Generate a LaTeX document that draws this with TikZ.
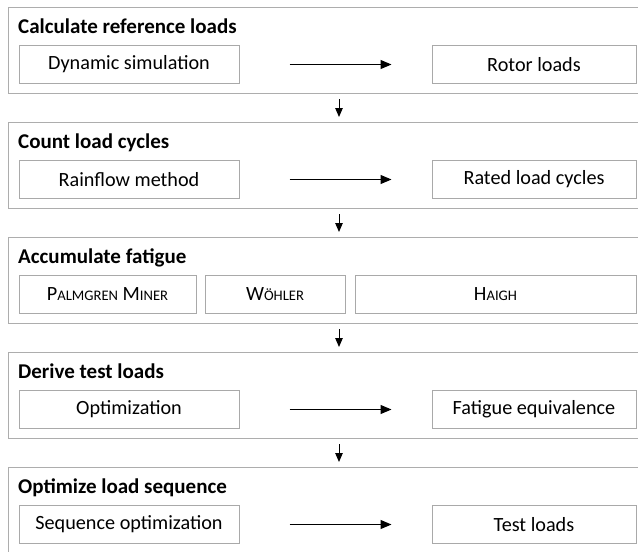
\documentclass[tikz,border=0pt]{standalone}
\usepackage{fontspec}
\setmainfont{Carlito}
\usetikzlibrary{arrows.meta}
\definecolor{outerc}{HTML}{ADADAD}
\definecolor{innerc}{HTML}{A9A9A9}
\newcommand{\fsc}[1]{{\fontsize{14.6}{16}\selectfont #1}}
\begin{document}
\begin{tikzpicture}[x=1pt,y=-1pt,
  stage/.style={draw=outerc, line width=1.3pt, minimum width=640pt, minimum height=86pt, anchor=north west, inner sep=0pt},
  stitle/.style={anchor=base west, inner sep=0pt, font=\fontsize{21}{24}\selectfont\bfseries},
  box/.style={draw=innerc, line width=1pt, minimum height=38pt, inner sep=0pt, font=\fontsize{20.2}{24}\selectfont},
  flow/.style={-{Triangle[length=11pt,width=9pt]}, line width=1.1pt},
  down/.style={-{Triangle[length=9pt,width=7.5pt]}, line width=1pt, shorten <=5pt, shorten >=5pt}]
\useasboundingbox (0,0) rectangle (638,552);
\clip (0,0) rectangle (638,552);
\fill[white] (0,0) rectangle (638,552);
\coordinate (dx) at (339,0);
% stage 1
\node[stage] (s1) at (8,7) {};
\node[stitle] (t1) at (18,33) {Calculate reference loads};
\node[box, minimum width=220pt] (a1) at (129,64.5) {Dynamic simulation};
\node[box, minimum width=204pt] (b1) at (534,64.5) {Rotor loads};
\draw[flow, shorten <=50pt, shorten >=40pt] (a1.east) -- (b1.west);
% stage 2
\node[stage] (s2) at (8,122) {};
\node[stitle] (t2) at (18,148) {Count load cycles};
\node[box, minimum width=220pt] (a2) at (129,179.5) {Rainflow method};
\node[box, minimum width=204pt] (b2) at (534,179.5) {Rated load cycles};
\draw[flow, shorten <=50pt, shorten >=40pt] (a2.east) -- (b2.west);
% stage 3
\node[stage] (s3) at (8,237) {};
\node[stitle] (t3) at (18,263) {Accumulate fatigue};
\node[box, minimum width=177pt] (a3) at (107.5,294.5) {P\fsc{ALMGREN} M\fsc{INER}};
\node[box, minimum width=140pt] (b3) at (275,294.5) {W\fsc{ÖHLER}};
\node[box, minimum width=281pt] (c3) at (495.5,294.5) {H\fsc{AIGH}};
% stage 4
\node[stage] (s4) at (8,352) {};
\node[stitle] (t4) at (18,378) {Derive test loads};
\node[box, minimum width=220pt] (a4) at (129,409.5) {Optimization};
\node[box, minimum width=204pt] (b4) at (534,409.5) {Fatigue equivalence};
\draw[flow, shorten <=50pt, shorten >=40pt] (a4.east) -- (b4.west);
% stage 5
\node[stage] (s5) at (8,467) {};
\node[stitle] (t5) at (18,493) {Optimize load sequence};
\node[box, minimum width=220pt] (a5) at (129,524.5) {Sequence optimization};
\node[box, minimum width=204pt] (b5) at (534,524.5) {Test loads};
\draw[flow, shorten <=50pt, shorten >=40pt] (a5.east) -- (b5.west);
% stage connectors
\draw[down] (s1.south -| dx) -- (s2.north -| dx);
\draw[down] (s2.south -| dx) -- (s3.north -| dx);
\draw[down] (s3.south -| dx) -- (s4.north -| dx);
\draw[down] (s4.south -| dx) -- (s5.north -| dx);
\end{tikzpicture}
\end{document}
